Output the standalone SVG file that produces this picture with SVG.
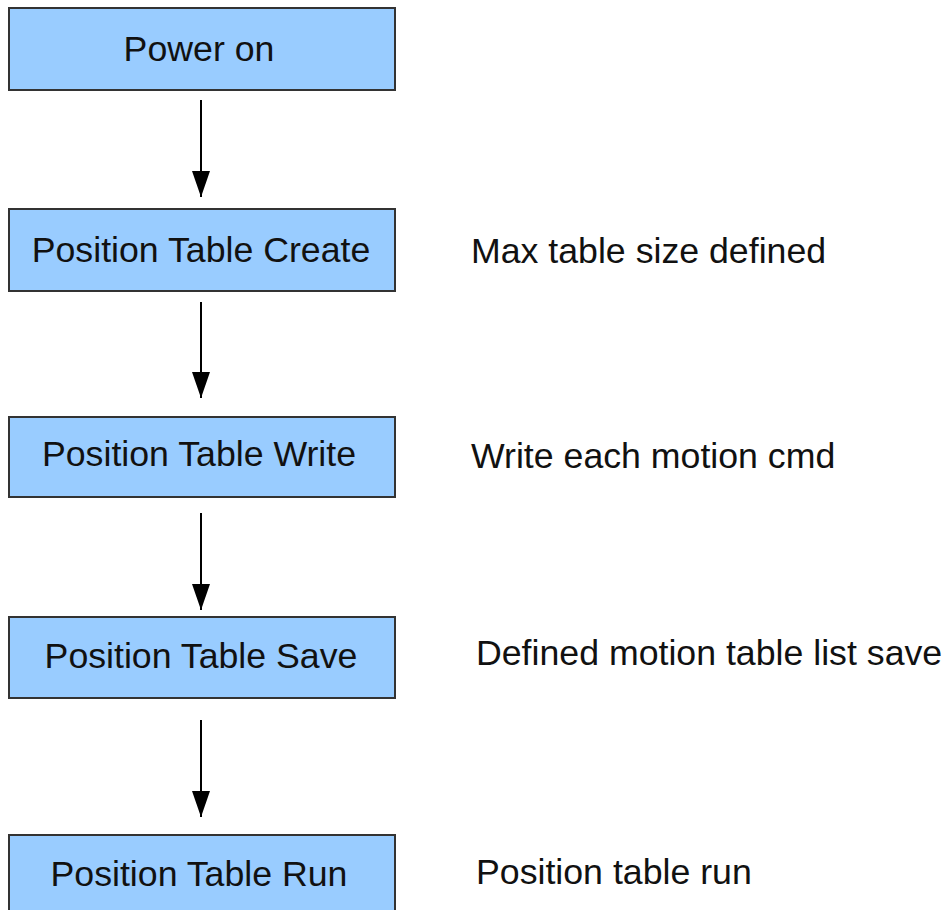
<svg xmlns="http://www.w3.org/2000/svg" width="946" height="910" viewBox="0 0 946 910">
<style>
.box{fill:#99ccff;stroke:#333333;stroke-width:2}
.t{font-family:"Liberation Sans",Arial,sans-serif;font-size:35.7px;fill:#111111}
.c{text-anchor:middle}
.edge{stroke:#000000;stroke-width:2;fill:none}
</style>
<defs>
<marker id="ah" viewBox="0 0 26 18" refX="26" refY="9" markerUnits="userSpaceOnUse" markerWidth="26" markerHeight="18" orient="auto">
<path d="M0,0 L26,9 L0,18 Z" fill="#000000"/>
</marker>
</defs>
<rect width="946" height="910" fill="#ffffff"/>
<g id="connectors">
<line class="edge" x1="201" y1="100" x2="201" y2="197" marker-end="url(#ah)"/>
<line class="edge" x1="201" y1="302" x2="201" y2="398" marker-end="url(#ah)"/>
<line class="edge" x1="201" y1="513" x2="201" y2="610" marker-end="url(#ah)"/>
<line class="edge" x1="201" y1="720" x2="201" y2="817" marker-end="url(#ah)"/>
</g>
<g id="power-on">
<rect class="box" x="9" y="8" width="386" height="82"/>
<text class="t c" x="199" y="61">Power on</text>
</g>
<g id="create">
<rect class="box" x="9" y="209" width="386" height="82"/>
<text class="t c" x="201" y="262">Position Table Create</text>
</g>
<g id="write">
<rect class="box" x="9" y="417" width="386" height="80"/>
<text class="t c" x="199" y="466">Position Table Write</text>
</g>
<g id="save">
<rect class="box" x="9" y="617" width="386" height="81"/>
<text class="t c" x="201" y="668">Position Table Save</text>
</g>
<g id="run">
<rect class="box" x="9" y="835" width="386" height="82"/>
<text class="t c" x="199" y="886">Position Table Run</text>
</g>
<g id="notes">
<text class="t" x="471" y="263">Max table size defined</text>
<text class="t" x="471" y="468">Write each motion cmd</text>
<text class="t" x="476" y="665">Defined motion table list save</text>
<text class="t" x="476" y="884">Position table run</text>
</g>
</svg>
